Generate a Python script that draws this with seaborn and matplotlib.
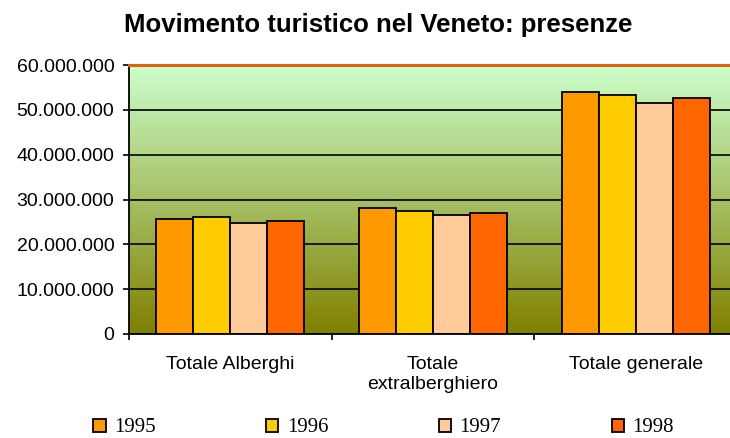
import numpy as np
import pandas as pd
import matplotlib
matplotlib.use("Agg")
import matplotlib.pyplot as plt
import matplotlib.ticker as mticker
import seaborn as sns

# data
categories = ["Totale Alberghi", "Totale\nextralberghiero", "Totale generale"]
years = ["1995", "1996", "1997", "1998"]
v1995 = [25.7e6, 28.0e6, 53.9e6]
v1996 = [26.2e6, 27.5e6, 53.3e6]
v1997 = [24.8e6, 26.6e6, 51.6e6]
v1998 = [25.3e6, 27.1e6, 52.6e6]
colors = ["#FF9900", "#FFCC00", "#FFCC99", "#FF6600"]

rows = []
for y, vals in zip(years, [v1995, v1996, v1997, v1998]):
    for c, v in zip(categories, vals):
        rows.append({"cat": c, "year": y, "val": v})
df = pd.DataFrame(rows)

sns.set_theme(style="white")
plt.rcParams["font.family"] = ["Liberation Sans", "DejaVu Sans"]
plt.rcParams["text.color"] = "black"
plt.rcParams["xtick.color"] = "black"
plt.rcParams["ytick.color"] = "black"

fig = plt.figure(figsize=(7.3, 4.38), dpi=100)
ax = fig.add_axes([129 / 730, 104 / 438, 608 / 730, 269 / 438])

# gradient background: light green at top, olive at bottom
top = np.array([204, 255, 204]) / 255
bot = np.array([128, 128, 0]) / 255
t = np.linspace(0, 1, 256)[:, None]
grad = (top * (1 - t) + bot * t)[:, None, :]
ax.imshow(grad, extent=[-0.5, 2.5, 0, 60e6], aspect="auto", zorder=0.1)

sns.barplot(data=df, x="cat", y="val", hue="year", palette=colors,
            width=0.73, gap=0, edgecolor="black", linewidth=1.3,
            saturation=1, ax=ax, zorder=2)

ax.set_xlim(-0.5, 2.5)
ax.set_ylim(0, 60e6)
ax.set_xlabel("")
ax.set_ylabel("")

ax.set_axisbelow(True)
ax.yaxis.set_major_locator(mticker.MultipleLocator(10e6))
ax.yaxis.set_major_formatter(mticker.FuncFormatter(lambda v, p: f"{int(v):,}".replace(",", ".")))
ax.grid(axis="y", color="black", linewidth=1.2)
ax.grid(axis="x", visible=False)

ax.set_xticks([0, 1, 2])
ax.set_xticklabels(categories)
ax.set_xticks([-0.5, 0.5, 1.5], minor=True)
ax.tick_params(axis="x", which="major", length=0, pad=16, labelsize=14, labelcolor="black")
ax.tick_params(axis="x", which="minor", length=4.5, width=1.2, direction="out", color="black", bottom=True)
ax.tick_params(axis="y", which="major", length=4.5, width=1.2, direction="out", color="black",
               left=True, pad=6, labelsize=14, labelcolor="black")
for lab in ax.get_xticklabels():
    lab.set_linespacing(1.25)

for s in ["left", "bottom"]:
    ax.spines[s].set_color("black")
    ax.spines[s].set_linewidth(1.3)
ax.spines["top"].set_color("#E0620F")
ax.spines["top"].set_linewidth(2.2)
ax.spines["right"].set_visible(False)

handles, labels = ax.get_legend_handles_labels()
ax.get_legend().remove()
leg = fig.legend(handles, labels, ncol=4, loc="center left",
                 bbox_to_anchor=(93 / 730, 1 - 428 / 438), frameon=False,
                 borderpad=0, borderaxespad=0, handlelength=0.6, handleheight=0.6,
                 handletextpad=0.4, columnspacing=5.3,
                 prop={"family": "Liberation Serif", "size": 15})
for txt in leg.get_texts():
    txt.set_color("black")

fig.text(378 / 730, 1 - 32 / 438, "Movimento turistico nel Veneto: presenze",
         ha="center", va="baseline", fontsize=18.5, fontweight="bold", color="black")

fig.savefig("out.png", dpi=100)
